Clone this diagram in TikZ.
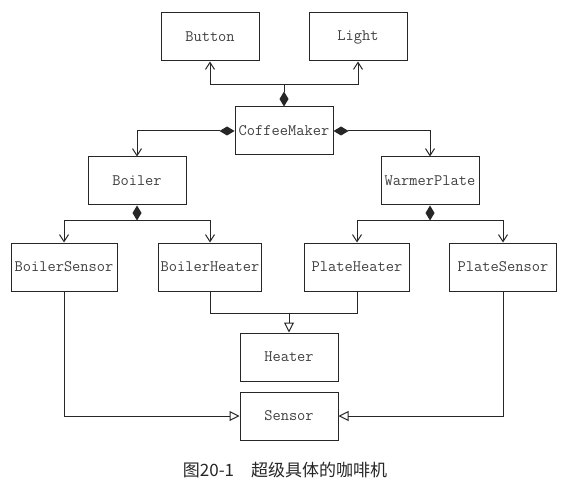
\documentclass[tikz,border=0pt]{standalone}
\usepackage{fontspec}
\newfontfamily\cjk{Noto Sans CJK SC}
\usetikzlibrary{positioning,arrows.meta}

\begin{document}
\begin{tikzpicture}[x=1pt,y=-1pt,
  box/.style={draw=black!85,line width=1pt,minimum width=98pt,minimum height=48pt,inner sep=2pt,
    font=\ttfamily\fontsize{16}{18}\selectfont,text=black!75},
  wire/.style={draw=black!85,line width=1pt},
  comp/.style={wire,{Diamond[length=15pt,width=9pt]}-},
  compassoc/.style={wire,{Diamond[length=15pt,width=9pt]}-{Straight Barb[length=7pt,width=9pt]}},
  assoc/.style={wire,-{Straight Barb[length=7pt,width=9pt]}},
  gen/.style={wire,-{Triangle[open,length=10pt,width=10pt]}}
]
\useasboundingbox (0,0) rectangle (572,494);
\node[box] (button) at (210,37) {Button};
\node[box,right=49pt of button] (light) {Light};
\node[box] (coffee) at (284,131) {CoffeeMaker};
\node[box] (boiler) at (137,181) {Boiler};
\node[box] (warmer) at (430,181) {WarmerPlate};
\node[box,minimum width=106pt] (bsensor) at (64,267) {BoilerSensor};
\node[box,minimum width=103pt] (bheater) at (210,267) {BoilerHeater};
\node[box,minimum width=105pt] (pheater) at (357,267) {PlateHeater};
\node[box,minimum width=107pt] (psensor) at (503,267) {PlateSensor};
\node[box] (heater) at (289,357) {Heater};
\node[box,below=10pt of heater] (sensor) {Sensor};
\node[font=\cjk\fontsize{17}{20}\selectfont,text=black!85] (caption) at (285,470) {图20-1\quad 超级具体的咖啡机};

% junction points
\coordinate (cmtop) at (284,84.5);
\coordinate (btop) at (137,220.5);
\coordinate (wtop) at (430,220.5);
\coordinate (hjoin) at (289,313.5);

\draw[comp] (coffee.north) -- (cmtop);
\draw[assoc] (cmtop) -| (button.south);
\draw[assoc] (cmtop) -| (light.south);
\draw[compassoc] (coffee.west) -| (boiler.north);
\draw[compassoc] (coffee.east) -| (warmer.north);
\draw[comp] (boiler.south) -- (btop);
\draw[assoc] (btop) -| (bsensor.north);
\draw[assoc] (btop) -| (bheater.north);
\draw[comp] (warmer.south) -- (wtop);
\draw[assoc] (wtop) -| (pheater.north);
\draw[assoc] (wtop) -| (psensor.north);

\draw[wire] (bheater.south) -- (bheater.south |- hjoin) -| (pheater.south);
\draw[gen] (hjoin) -- (heater.north);
\draw[gen] (bsensor.south) |- (sensor.west);
\draw[gen] (psensor.south) |- (sensor.east);
\end{tikzpicture}
\end{document}
